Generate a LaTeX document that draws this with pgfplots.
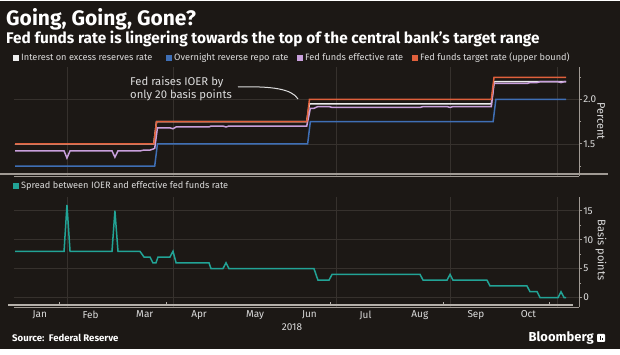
\documentclass[border=0pt]{standalone}
\usepackage{fontspec}
\setmainfont{Fira Sans}
\usepackage{pgfplots}
\pgfplotsset{compat=1.18}
\definecolor{bg}{HTML}{1C1815}
\definecolor{tgt}{HTML}{E0603C}
\definecolor{ioer}{HTML}{EDEDED}
\definecolor{effr}{HTML}{C9A0DC}
\definecolor{rrp}{HTML}{3F6FB5}
\definecolor{spread}{HTML}{22A396}
\definecolor{axgray}{HTML}{A09A94}
\definecolor{baseg}{HTML}{B5B0AA}
\definecolor{gridc}{HTML}{36312D}
\definecolor{txt}{HTML}{DCDCDC}
\pgfplotsset{
  panel/.style={
    scale only axis, anchor=south west, width=564.6pt,
    xmin=1, xmax=313,
    axis x line*=bottom, axis y line*=right,
    axis line style={axgray, line width=1pt},
    xtick style={/pgfplots/major tick length=0pt},
    ytick style={axgray, line width=0.8pt},
    tick align=outside, major tick length=3pt, minor tick length=2pt,
    extra x ticks={30,89,179,242,301}, extra x tick labels={},
    extra x tick style={grid=major},
    grid style={gridc, line width=0.6pt},
    ymajorgrids,
    yticklabel style={text=txt, font=\fontsize{10}{12}\selectfont, inner sep=1pt},
    /pgf/number format/assume math mode=true,
    clip=false,
  }
}
\begin{document}
\begin{tikzpicture}[x=1pt,y=1pt]
\fill[white] (0,0) rectangle (620,355);
\fill[bg] (0,6) rectangle (620,354);
% titles
\node[anchor=base west, inner sep=0, text=white, font=\fontsize{21}{23}\selectfont\bfseries] at (6,329) {Going, Going, Gone?};
\node[anchor=base west, inner sep=0, text=white, font=\fontsize{15.4}{17}\selectfont\bfseries] at (6,311) {Fed funds rate is lingering towards the top of the central bank's target range};
% legend top
\begin{scope}[font=\fontsize{9.2}{11}\selectfont, text=txt]
\fill[ioer] (13,294) rectangle (19,300);
\node[anchor=base west, inner sep=0] at (21,294) {Interest on excess reserves rate};
\fill[rrp] (166,294) rectangle (172,300);
\node[anchor=base west, inner sep=0] at (174,294) {Overnight reverse repo rate};
\fill[effr] (297,294) rectangle (303,300);
\node[anchor=base west, inner sep=0] at (305,294) {Fed funds effective rate};
\fill[tgt] (412,294) rectangle (418,300);
\node[anchor=base west, inner sep=0] at (420,294) {Fed funds target rate (upper bound)};
\fill[spread] (13,166) rectangle (19,172);
\node[anchor=base west, inner sep=0] at (21,166) {Spread between IOER and effective fed funds rate};
\end{scope}

% top panel
\begin{axis}[panel, at={(8,201.5)}, height=109pt,
  ymin=1.136, ymax=2.364,
  xtick=\empty,
  ytick={1.5,2.0}, yticklabels={1.5,2.0}, minor ytick={1.25,1.75,2.25},
]
\addplot[rrp, line width=1.5pt, mark=none] coordinates {
(1.3,1.25) (78.5,1.25) (80,1.50) (163,1.50) (164.5,1.75) (265.5,1.75) (267,2.00) (305.8,2.00)};
\addplot[ioer, line width=1.5pt, mark=none] coordinates {
(1.3,1.50) (78,1.50) (79.5,1.75) (162.5,1.75) (164,1.95) (264.5,1.95) (266,2.20) (305.8,2.20)};
\addplot[effr, line width=1.5pt, mark=none] coordinates {
(1.3,1.42) (28.4,1.42) (30,1.34) (31.7,1.42) (54.9,1.42) (56.5,1.35) (58.2,1.42)
(70.3,1.42) (72.6,1.43) (75.9,1.43) (77.5,1.44) (78.5,1.45)
(80,1.68) (86.9,1.68) (88.6,1.67) (90.3,1.69) (108.5,1.69) (109.6,1.70)
(116.2,1.70) (117.9,1.69) (119.5,1.70) (162.5,1.70) (164.5,1.90) (166.5,1.90)
(168.7,1.92) (174.8,1.92) (176.5,1.91) (225.1,1.91) (226.8,1.92) (240,1.92)
(241.7,1.91) (243.3,1.92) (264.5,1.92) (266,2.18) (284.2,2.18) (285.9,2.19)
(289.8,2.19) (291.4,2.20) (301.4,2.20) (303,2.19) (304.7,2.20) (305.8,2.20)};
\addplot[tgt, line width=1.5pt, mark=none] coordinates {
(1.3,1.50) (78,1.50) (79.5,1.75) (162.5,1.75) (164,2.00) (264.5,2.00) (266,2.25) (305.8,2.25)};
\end{axis}

% bottom panel
\begin{axis}[panel, at={(8,83)}, height=110.5pt,
  ymin=-1.64, ymax=17.47,
  ytick={0,5,10,15}, yticklabels={0,5,10,15}, minor ytick={2.5,7.5,12.5},
  xtick={15,43,73,103,134,164,195,225,256,285},
  xticklabels={Jan,Feb,Mar,Apr,May,Jun,Jul,Aug,Sep,Oct},
  xticklabel style={text=txt, font=\fontsize{10}{12}\selectfont, anchor=north, inner sep=0pt, yshift=-0.5pt},
]
\addplot[spread, line width=1.5pt, mark=none] coordinates {
(1.3,8) (28.4,8) (30,16) (31.7,8) (54.9,8) (56.5,15) (58.2,8) (70.3,8) (72.6,7)
(75.9,7) (77.5,6) (79.2,6) (80.3,7) (86.9,7) (88.6,8) (90.3,6) (108.5,6) (109.6,5)
(116.2,5) (117.9,6) (119.5,5) (166.5,5) (168.7,3) (174.8,3) (176.5,4) (225.1,4)
(226.8,3) (240,3) (241.7,4) (243.3,3) (262.1,3) (263.8,2) (284.2,2) (285.9,1)
(289.8,1) (291.4,0) (301.4,0) (303,1) (304.7,0) (305.8,0)};
\end{axis}

% panel base lines
\draw[axgray, line width=1.3pt] (0,181) -- (608,181);
\draw[baseg, line width=1.5pt] (8,50) -- (572.5,50);
\foreach \xx in {59,166,330,443,549} {\draw[baseg, line width=1pt] (\xx,50) -- (\xx,53);}

% axis titles
\node[rotate=-90, text=txt, font=\fontsize{11}{13}\selectfont] at (601,234) {Percent};
\node[rotate=-90, text=txt, font=\fontsize{11}{13}\selectfont] at (601,105) {Basis points};
\node[anchor=base, inner sep=0, text=txt, font=\fontsize{10}{12}\selectfont] at (292,24) {2018};

% annotation
\node[anchor=north west, align=left, inner sep=0, text=txt, font=\fontsize{11.3}{13.5}\selectfont] at (130,279) {Fed raises IOER by\\only 20 basis points};
\draw[txt, line width=1pt] (238,268) .. controls (272,269) and (292,266) .. (298,256);

% footer
\node[anchor=base west, inner sep=0, text=white, font=\fontsize{9.6}{11}\selectfont\bfseries] at (12,13) {Source:\ \ Federal Reserve};
\node[anchor=base east, inner sep=0, text=white, font=\fontsize{13}{15}\selectfont\bfseries] at (594,13) {Bloomberg};
\fill[white, rounded corners=0.8pt] (597,13) rectangle (605,21);
\fill[bg] (599.5,15) rectangle (600.5,18.5);
\fill[bg] (601.5,15) rectangle (602.5,17);

\pgfresetboundingbox
\path[use as bounding box] (0,0) rectangle (620,355);
\end{tikzpicture}
\end{document}
